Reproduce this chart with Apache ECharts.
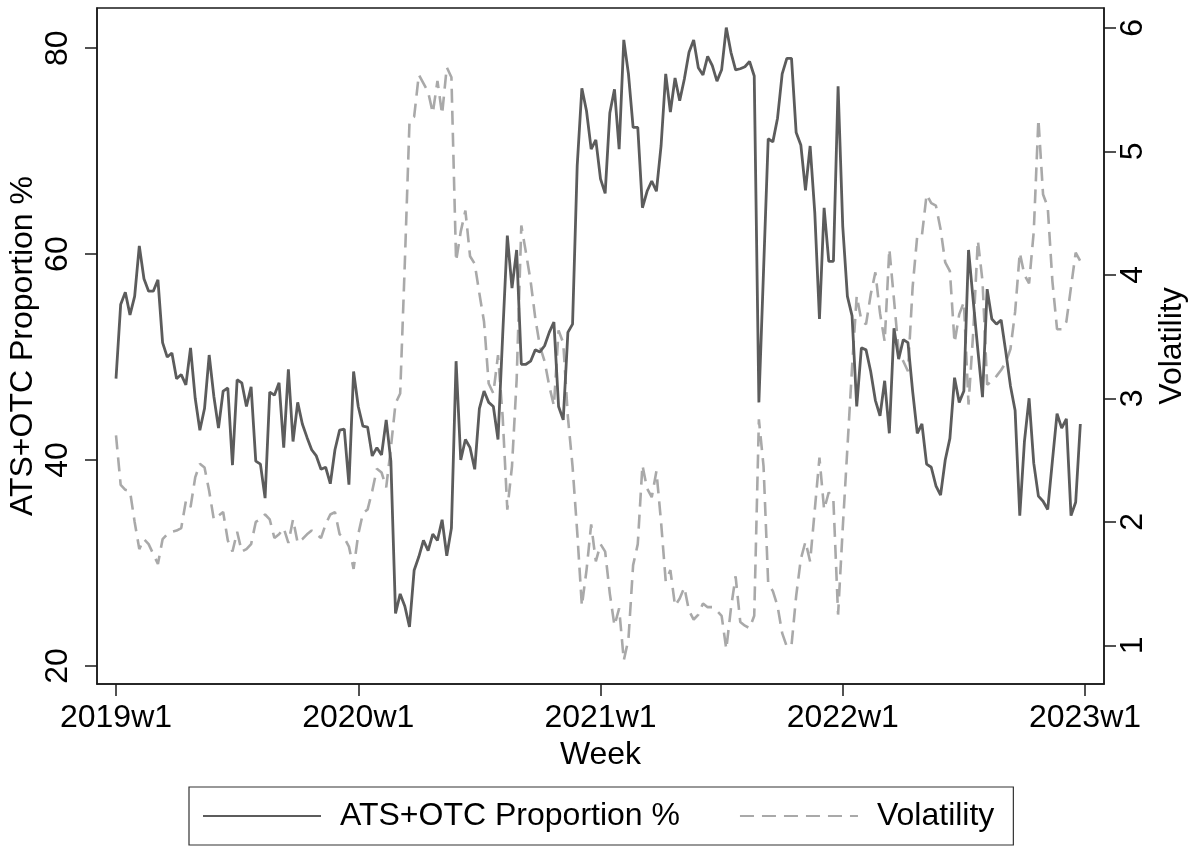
<!DOCTYPE html>
<html>
<head>
<meta charset="utf-8">
<script src="https://cdn.jsdelivr.net/npm/echarts@6/dist/echarts.min.js"></script>
<style>
html,body{margin:0;padding:0;background:#fff;}
#chart{width:1196px;height:846px;}
</style>
</head>
<body>
<div id="chart"></div>
<script>
// Weekly data, index 0 = 2019w1 ... 207 = 2022w52
const proportion = [
47.9,55.1,56.3,54.1,55.9,60.8,57.6,56.4,56.4,57.5,
51.4,50.0,50.4,47.9,48.3,47.3,50.9,46.0,42.9,45.0,
50.2,46.2,43.1,46.7,47.0,39.5,47.8,47.5,45.2,47.1,
39.9,39.6,36.3,46.6,46.3,47.5,41.2,48.8,41.8,45.6,
43.5,42.2,41.0,40.4,39.1,39.3,37.7,41.0,42.9,43.0,
37.6,48.6,45.2,43.3,43.2,40.4,41.2,40.5,43.9,39.9,
25.1,27.0,25.8,23.8,29.3,30.6,32.2,31.2,32.8,32.2,
34.2,30.7,33.4,49.6,40.0,42.0,41.2,39.1,45.0,46.7,
45.6,45.2,42.0,52.1,61.8,56.7,60.4,49.3,49.3,49.6,
50.7,50.5,51.1,52.4,53.4,45.2,43.9,52.4,53.2,68.6,
76.1,73.9,70.2,71.1,67.3,65.9,73.7,76.0,70.2,80.8,
77.5,72.3,72.3,64.5,66.1,67.1,66.1,70.5,77.5,73.8,
77.1,74.9,77.0,79.6,80.8,78.1,77.4,79.2,78.3,76.8,
77.9,82.0,79.6,77.9,78.0,78.2,78.7,77.3,45.6,58.4,
71.2,70.9,73.2,77.5,79.0,79.0,71.8,70.6,66.2,70.5,
64.0,53.7,64.5,59.3,59.3,76.3,62.7,55.9,54.0,45.2,
50.9,50.7,48.6,45.8,44.3,47.7,42.6,52.8,49.8,51.7,
51.4,46.7,42.6,43.5,39.6,39.3,37.5,36.6,40.0,42.1,
48.0,45.6,46.7,60.4,55.5,50.7,46.1,56.6,53.7,53.2,
53.6,50.5,47.2,44.8,34.6,41.8,46.0,39.7,36.5,36.0,
35.2,39.9,44.5,43.1,44.0,34.6,35.9,43.5
];
const volatility = [
2.70,2.30,2.26,2.25,2.00,1.78,1.86,1.82,1.74,1.66,
1.86,1.90,1.92,1.93,1.95,2.17,2.12,2.36,2.47,2.44,
2.25,2.02,2.05,2.08,1.85,1.76,1.92,1.76,1.78,1.82,
2.00,2.02,2.06,2.02,1.87,1.90,1.95,1.83,2.02,1.83,
1.86,1.90,1.93,1.90,1.87,1.98,2.06,2.08,1.90,1.87,
1.80,1.62,1.90,2.07,2.10,2.25,2.43,2.40,2.28,2.60,
2.96,3.04,4.10,5.24,5.28,5.62,5.55,5.48,5.31,5.57,
5.30,5.68,5.60,4.11,4.35,4.52,4.15,4.09,3.85,3.62,
3.12,3.04,3.35,2.85,2.10,2.45,3.15,4.40,4.18,3.95,
3.65,3.42,3.30,3.10,2.94,3.55,3.45,2.85,2.45,1.92,
1.32,1.61,1.98,1.68,1.82,1.76,1.42,1.16,1.30,0.88,
1.05,1.65,1.82,2.46,2.27,2.20,2.41,2.00,1.52,1.61,
1.32,1.38,1.47,1.28,1.21,1.25,1.34,1.31,1.31,1.28,
1.24,0.97,1.30,1.56,1.19,1.16,1.14,1.24,2.83,2.45,
1.50,1.44,1.32,1.10,0.99,1.00,1.40,1.70,1.84,1.68,
2.10,2.52,2.10,2.24,2.17,1.25,1.95,2.60,3.25,3.83,
3.63,3.60,3.84,4.02,3.69,3.46,4.21,3.80,3.38,3.30,
3.22,3.90,4.32,4.32,4.65,4.58,4.56,4.37,4.10,4.03,
3.45,3.68,3.78,2.95,3.53,4.28,3.95,3.11,3.14,3.18,
3.23,3.29,3.40,3.70,4.18,4.00,3.93,4.35,5.26,4.65,
4.55,3.95,3.56,3.56,3.62,3.90,4.18,4.11
];
const xTickWeeks = [0, 52, 104, 156, 208];
const xTickLabels = ['2019w1', '2020w1', '2021w1', '2022w1', '2023w1'];
const leftTicks = [20, 40, 60, 80];
const rightTicks = [1, 2, 3, 4, 5, 6];
const seriesNames = ['ATS+OTC Proportion %', 'Volatility'];

const FONT = "'Liberation Sans', Arial, Helvetica, sans-serif";
const FS = 32;
const AX = '#1a1a1a';

const propData = proportion.map((v, i) => [i, v]);
const volData = volatility.map((v, i) => [i, v]);

const chart = echarts.init(document.getElementById('chart'), null, {renderer: 'canvas'});
chart.setOption({
  animation: false,
  backgroundColor: '#fff',
  textStyle: {fontFamily: FONT},
  grid: {left: 97, right: 92, top: 8, bottom: 162, containLabel: false, outerBoundsMode: 'none',
         show: true, borderColor: AX, borderWidth: 1.5, backgroundColor: 'transparent'},
  legend: {
    left: 189, top: 787,
    data: seriesNames,
    itemWidth: 118, itemHeight: 2, itemGap: 59,
    padding: [11, 19, 11, 13],
    borderColor: '#333', borderWidth: 1.2,
    itemStyle: {opacity: 0},
    textStyle: {fontFamily: FONT, fontSize: FS, color: '#000', padding: [0, 0, 0, 14], lineHeight: 36}
  },
  xAxis: {
    type: 'value', min: -4.08, max: 212.08,
    name: 'Week', nameLocation: 'middle', nameGap: 52,
    nameTextStyle: {fontFamily: FONT, fontSize: FS, color: '#000'},
    axisLine: {show: true, onZero: false, lineStyle: {color: AX, width: 1.5}},
    axisTick: {show: true, length: 12, customValues: xTickWeeks, lineStyle: {color: AX, width: 1.5}},
    axisLabel: {customValues: xTickWeeks, margin: 18, fontFamily: FONT, fontSize: FS, color: '#000',
      formatter: v => xTickLabels[xTickWeeks.indexOf(Math.round(v))] || ''},
    splitLine: {show: false}
  },
  yAxis: [
    {
      type: 'value', min: 18.25, max: 83.9, position: 'left',
      name: seriesNames[0], nameLocation: 'middle', nameGap: 58, nameRotate: 90, nameMoveOverlap: false,
      nameTextStyle: {fontFamily: FONT, fontSize: FS, color: '#000'},
      axisLine: {show: true, onZero: false, lineStyle: {color: AX, width: 1.5}},
      axisTick: {show: true, length: 12, customValues: leftTicks, lineStyle: {color: AX, width: 1.5}},
      axisLabel: {customValues: leftTicks, rotate: 90, margin: 23, fontFamily: FONT, fontSize: FS, color: '#000'},
      splitLine: {show: false}
    },
    {
      type: 'value', min: 0.688, max: 6.16, position: 'right',
      name: seriesNames[1], nameLocation: 'middle', nameGap: 52, nameRotate: 90, nameMoveOverlap: false,
      nameTextStyle: {fontFamily: FONT, fontSize: FS, color: '#000'},
      axisLine: {show: true, onZero: false, lineStyle: {color: AX, width: 1.5}},
      axisTick: {show: true, length: 12, customValues: rightTicks, lineStyle: {color: AX, width: 1.5}},
      axisLabel: {customValues: rightTicks, rotate: 90, margin: 13, fontFamily: FONT, fontSize: FS, color: '#000'},
      splitLine: {show: false}
    }
  ],
  series: [
    {
      name: seriesNames[0], type: 'line', yAxisIndex: 0, data: propData,
      symbol: 'none', smooth: false, z: 3,
      lineStyle: {color: '#5c5c5c', width: 2.8},
      itemStyle: {color: '#5c5c5c'}
    },
    {
      name: seriesNames[1], type: 'line', yAxisIndex: 1, data: volData,
      symbol: 'none', smooth: false, z: 2,
      lineStyle: {color: '#a9a9a9', width: 2.6, type: [14, 8]},
      itemStyle: {color: '#a9a9a9'}
    }
  ]
});
</script>
</body>
</html>
